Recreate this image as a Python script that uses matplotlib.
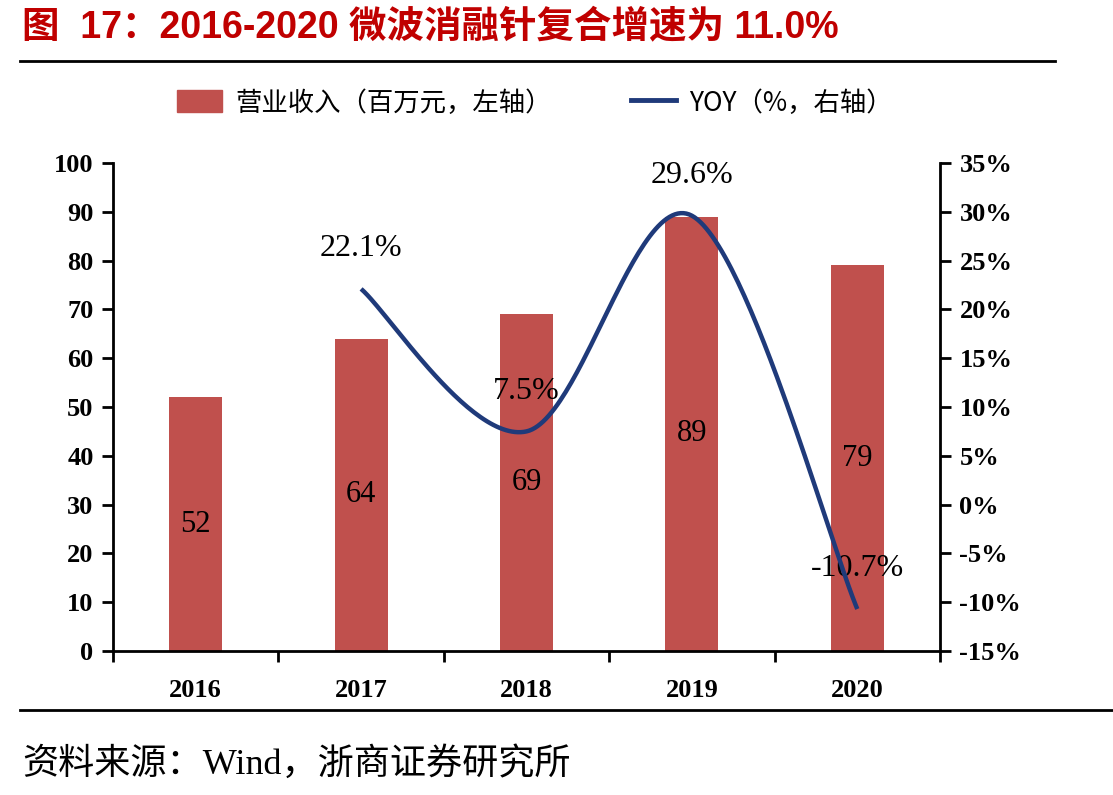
import numpy as np
import matplotlib
matplotlib.use("Agg")
import matplotlib.pyplot as plt
from matplotlib.lines import Line2D
from matplotlib.patches import Patch

years = ["2016", "2017", "2018", "2019", "2020"]
revenue = [52, 64, 69, 89, 79]
yoy_years = ["2017", "2018", "2019", "2020"]
yoy = [22.1, 7.5, 29.6, -10.7]

title = "图  17：2016-2020 微波消融针复合增速为 11.0%"
legend_bar = "营业收入（百万元，左轴）"
legend_line = "YOY（%，右轴）"
source = "资料来源：Wind，浙商证券研究所"

bar_color = "#C0504D"
line_color = "#1F3A7A"
title_color = "#C00000"

fig = plt.figure(figsize=(11.13, 7.95), dpi=100)
ax = fig.add_axes([113/1113, 144/795, 827/1113, 488/795])
ax2 = ax.twinx()

x = np.arange(len(years))
ax.bar(x, revenue, width=0.32, color=bar_color, zorder=2)
for xi, v in zip(x, revenue):
    ax.text(xi, v/2, f"{v}", ha="center", va="center", fontsize=22,
            family="Liberation Serif", color="black", zorder=3)

# smoothed line (Catmull-Rom, like Excel smoothing)
xl = np.array([years.index(y) for y in yoy_years], dtype=float)
yl = np.array(yoy, dtype=float)
P = np.column_stack([xl, yl])
Pext = np.vstack([P[0], P, P[-1]])
pts = []
t = np.linspace(0, 1, 60)
for i in range(1, len(Pext) - 2):
    p0, p1, p2, p3 = Pext[i-1], Pext[i], Pext[i+1], Pext[i+2]
    c1 = p1 + (p2 - p0) / 6
    c2 = p2 - (p3 - p1) / 6
    seg = ((1-t)**3)[:, None]*p1 + (3*(1-t)**2*t)[:, None]*c1 + (3*(1-t)*t**2)[:, None]*c2 + (t**3)[:, None]*p2
    pts.append(seg)
pts = np.vstack(pts)
ax2.plot(pts[:, 0], pts[:, 1], color=line_color, lw=3.2, zorder=4, solid_capstyle="butt")
for xi, v in zip(xl, yl):
    ax2.annotate(f"{v:.1f}%", (xi, v), xytext=(0, 29), textcoords="offset points",
                 ha="center", va="center", fontsize=23, family="Liberation Serif", color="black")

ax.set_xlim(-0.5, 4.5)
ax.set_ylim(0, 100)
ax.set_yticks(np.arange(0, 101, 10))
ax2.set_ylim(-15, 35)
ax2.set_yticks(np.arange(-15, 36, 5))
ax2.set_yticklabels([f"{v}%" for v in range(-15, 36, 5)])

ax.set_xticks(x)
ax.set_xticklabels(years)
ax.set_xticks(np.arange(-0.5, 4.6, 1), minor=True)
ax.tick_params(axis="x", which="major", length=0, pad=20)
ax.tick_params(axis="x", which="minor", length=8, width=2, direction="out")
ax.tick_params(axis="y", length=8, width=2, direction="out", pad=6)
ax2.tick_params(axis="y", length=8, width=2, direction="out", pad=6)

for a in (ax, ax2):
    a.spines["top"].set_visible(False)
    for s in ("left", "right", "bottom"):
        a.spines[s].set_linewidth(2)
ax.spines["right"].set_visible(False)
ax2.spines["left"].set_visible(False)
ax2.spines["bottom"].set_visible(False)

for lab in ax.get_xticklabels() + ax.get_yticklabels() + ax2.get_yticklabels():
    lab.set_family("Liberation Serif")
    lab.set_fontweight("bold")
    lab.set_fontsize(19)

# title and rules
fig.text(22/1113, 1 - 27/795, title, ha="left", va="center", fontsize=27, fontweight="bold",
         color=title_color, family=["Liberation Sans", "Noto Sans CJK SC"])
fig.add_artist(Line2D([20/1113, 1055/1113], [1 - 61/795, 1 - 61/795], color="black", lw=2))
fig.add_artist(Line2D([20/1113, 1.0], [1 - 710/795, 1 - 710/795], color="black", lw=2))

handles = [Patch(color=bar_color), Line2D([0], [0], color=line_color, lw=3.5)]
fig.legend(handles, [legend_bar, legend_line], loc="center", bbox_to_anchor=(535/1113, 1 - 103/795),
           ncol=2, frameon=False, prop={"family": ["Noto Sans CJK SC"], "size": 19},
           handlelength=1.7, handleheight=0.9, columnspacing=3.0, handletextpad=0.5)

fig.text(22/1113, 1 - 764/795, source, ha="left", va="center", fontsize=26,
         family=["Liberation Serif", "Noto Sans CJK SC"], color="black")

fig.savefig("out.png", dpi=100)
